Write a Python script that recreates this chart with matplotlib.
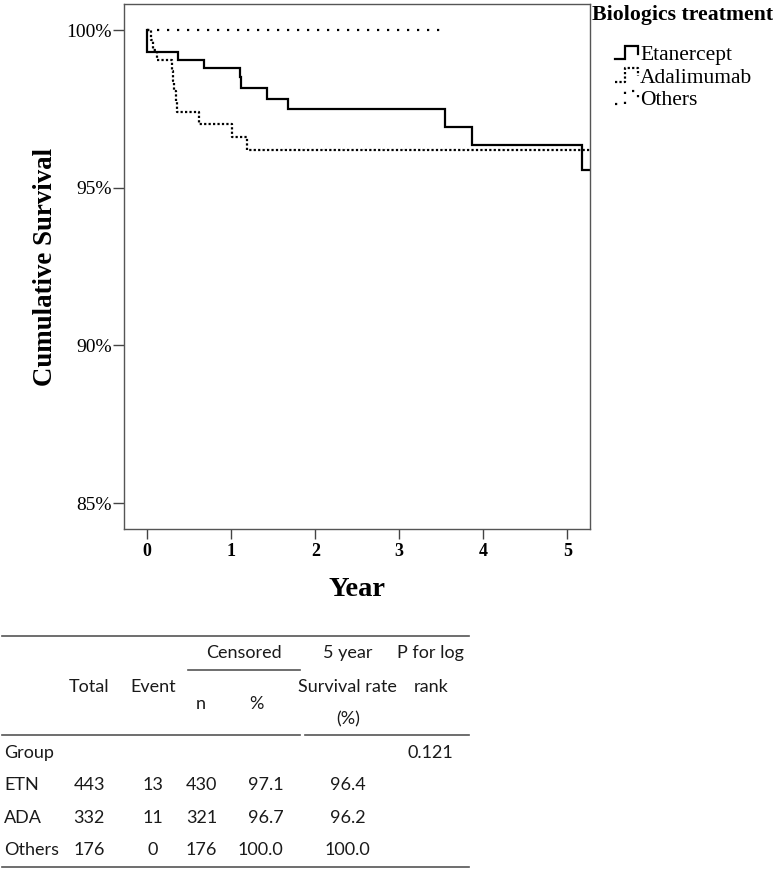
import numpy as np
import matplotlib
matplotlib.use('Agg')
import matplotlib.pyplot as plt
from matplotlib.lines import Line2D
from matplotlib.legend_handler import HandlerBase

# Kaplan-Meier step data (years, cumulative survival %)
etn_time = [0, 0.0, 0.37, 0.67, 1.10, 1.12, 1.43, 1.67, 3.54, 3.87, 5.18, 5.27]
etn_surv = [100, 99.31, 99.05, 98.79, 98.50, 98.18, 97.83, 97.50, 96.94, 96.36, 95.56, 95.56]

ada_time = [0, 0.04, 0.07, 0.11, 0.29, 0.31, 0.32, 0.34, 0.35, 0.61, 1.01, 1.19, 5.27]
ada_surv = [100, 99.68, 99.37, 99.05, 98.72, 98.39, 98.06, 97.74, 97.41, 97.02, 96.62, 96.19, 96.19]

oth_time = [0, 3.50]
oth_surv = [100, 100]

group_names = ['Etanercept', 'Adalimumab', 'Others']
yticks = [85, 90, 95, 100]
xticks = [0, 1, 2, 3, 4, 5]

# table
row_labels = ['ETN', 'ADA', 'Others']
total = ['443', '332', '176']
event = ['13', '11', '0']
cens_n = ['430', '321', '176']
cens_pct = ['97.1', '96.7', '100.0']
surv5 = ['96.4', '96.2', '100.0']
p_logrank = '0.121'

W, H = 777, 871
fig = plt.figure(figsize=(W / 100, H / 100), dpi=100)


def fx(x):
    return x / W


def fy(y):
    return 1 - y / H


ax = fig.add_axes([fx(124), fy(529.3), fx(590) - fx(124), fy(4.3) - fy(529.3)])

serif = 'Liberation Serif'
l1, = ax.plot(etn_time, etn_surv, drawstyle='steps-post', color='black', lw=1.6,
              solid_joinstyle='miter')
l2, = ax.plot(ada_time, ada_surv, drawstyle='steps-post', color='black', lw=1.6,
              linestyle=(0, (1, 1)))
l3, = ax.plot(oth_time, oth_surv, drawstyle='steps-post', color='black', lw=1.6,
              linestyle=(0, (1, 3.5)))

ax.set_xlim(-0.277, 5.27)
ax.set_ylim(84.17, 100.82)
ax.set_yticks(yticks)
ax.set_yticklabels([f'{v}%' for v in yticks], fontfamily=serif, fontsize=14)
ax.set_xticks(xticks)
ax.set_xticklabels([str(v) for v in xticks], fontfamily=serif, fontsize=13, fontweight='bold')
ax.tick_params(axis='y', length=7.7, width=1, color='#444444', pad=0.8)
ax.tick_params(axis='x', length=7.2, width=1, color='#444444', pad=3)
for s in ax.spines.values():
    s.set_color('#555555')
    s.set_linewidth(1)

ax.set_ylabel('Cumulative Survival', fontfamily=serif, fontweight='bold', fontsize=19.4, va='center')
ax.yaxis.set_label_coords(-0.168, 0.5)
ax.set_xlabel('Year', fontfamily=serif, fontweight='bold', fontsize=20.5)
ax.xaxis.set_label_coords(0.5, -0.09)


class StepHandler(HandlerBase):
    def create_artists(self, legend, orig_handle, xdescent, ydescent, width, height, fontsize, trans):
        xs = np.array([0, 0.45, 0.45, 1, 1]) * width - xdescent
        ys = np.array([0.1, 0.1, 0.95, 0.95, 0.45]) * height - ydescent
        line = Line2D(xs, ys)
        self.update_prop(line, orig_handle, legend)
        line.set_transform(trans)
        return [line]


fig.text(fx(592), fy(15), 'Biologics treatment', fontfamily=serif, fontweight='bold',
         fontsize=15.7, ha='left', va='center')
fig.legend([l1, l2, l3], group_names, loc='upper left', bbox_to_anchor=(fx(615), fy(45)),
           frameon=False, borderpad=0, borderaxespad=0, handlelength=1.05, handleheight=0.75,
           handletextpad=0.12, labelspacing=0.1,
           prop={'family': serif, 'size': 15.5},
           handler_map={Line2D: StepHandler()})

# table
tfont = 'Lato'
tsize = 13


def line(x0, x1, y):
    fig.add_artist(Line2D([fx(x0), fx(x1)], [fy(y), fy(y)], color='#555555', lw=1.2))


def txt(x, y, s, ha='center'):
    fig.text(fx(x), fy(y), s, ha=ha, va='center', fontfamily=tfont, fontsize=tsize,
             color='#1a1a1a')


line(2, 469, 635.7)
line(188, 300, 670)
line(2, 300, 735)
line(305, 469, 735)
line(2, 469, 866.7)

txt(244, 653, 'Censored')
txt(347.7, 653, '5 year')
txt(430.7, 653, 'P for log')
txt(89.3, 686.7, 'Total')
txt(152.7, 686.7, 'Event')
txt(347.7, 686.7, 'Survival rate')
txt(430.7, 686.7, 'rank')
txt(200.7, 704, 'n')
txt(256.7, 704, '%')
txt(347.7, 719, '(%)')

txt(4, 753.3, 'Group', ha='left')
txt(430.7, 753.3, p_logrank)
row_y = [785, 818.3, 850]
for i, y in enumerate(row_y):
    txt(4, y, row_labels[i], ha='left')
    txt(89.3, y, total[i])
    txt(152.7, y, event[i])
    txt(201.7, y, cens_n[i])
    txt(283.3, y, cens_pct[i], ha='right')
    txt(347.7, y, surv5[i])

plt.savefig('out.png', dpi=100)
